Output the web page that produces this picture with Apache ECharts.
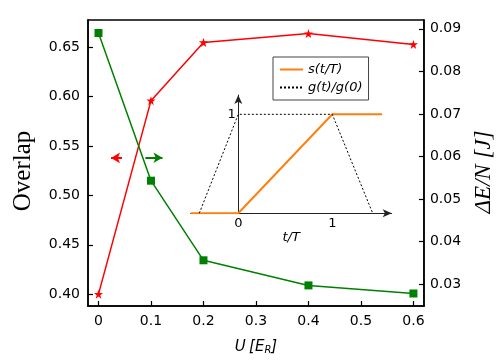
<!DOCTYPE html>
<html><head><meta charset="utf-8">
<script src="https://cdn.jsdelivr.net/npm/echarts@6/dist/echarts.min.js"></script>
<style>html,body{margin:0;padding:0;background:#fff}#c{width:503px;height:360px}</style>
</head><body><div id="c"></div>
<script>
const uValues = [0, 0.1, 0.2, 0.4, 0.6];
const overlap = [0.400, 0.596, 0.655, 0.664, 0.653];
const deltaE = [0.0890, 0.0543, 0.0356, 0.0297, 0.0278];
const xTicks = [0, 0.1, 0.2, 0.3, 0.4, 0.5, 0.6];
const leftTicks = [0.40, 0.45, 0.50, 0.55, 0.60, 0.65];
const rightTicks = [0.03, 0.04, 0.05, 0.06, 0.07, 0.08, 0.09];
const sT = [[-0.506, 0], [0, 0], [1, 1], [1.53, 1]];
const gT = [[-0.415, 0], [0, 1], [1, 1], [1.43, 0]];
const insetXTicks = [0, 1];
const insetYTicks = [1];
const redArrow = [[0.0447, 0.538], [0.0239, 0.538]];
const greenArrow = [[0.0893, 0.0597], [0.1219, 0.0597]];

const chart = echarts.init(document.getElementById('c'), null, {renderer: 'canvas'});
const lab = {color: '#000', fontFamily: 'DejaVu Sans', fontSize: 14};
const tick = {show: true, inside: true, length: 5, lineStyle: {color: '#000', width: 1.2}};
chart.setOption({
  animation: false,
  backgroundColor: '#fff',
  grid: [
    {left: 88, top: 20, right: 76, bottom: 53, show: true, borderColor: '#000', borderWidth: 1.5, backgroundColor: 'transparent'},
    {left: 190.7, top: 95, width: 201, height: 118.3, show: false}
  ],
  legend: {
    data: ['s(t/T)', 'g(t)/g(0)'],
    orient: 'vertical', left: 273, top: 57,
    padding: [6, 6, 6, 6], itemGap: 5, itemWidth: 23, itemHeight: 14,
    borderColor: '#444', borderWidth: 1, borderRadius: 0, backgroundColor: '#fff',
    itemStyle: {color: 'rgba(0,0,0,0)', borderWidth: 0},
    textStyle: {fontFamily: 'DejaVu Sans', fontSize: 13, fontStyle: 'italic', color: '#000'}
  },
  xAxis: [
    {gridIndex: 0, type: 'value', min: -0.02, max: 0.62,
     axisLine: {show: true, onZero: false, lineStyle: {color: '#000', width: 1.5}},
     axisTick: Object.assign({customValues: xTicks}, tick),
     axisLabel: Object.assign({customValues: xTicks, margin: 8, formatter: v => v === 0 ? '0' : v.toFixed(1)}, lab),
     splitLine: {show: false},
     name: '{i|U} {i|[E}{s|R}{i|]}', nameLocation: 'middle', nameGap: 33,
     nameTextStyle: {rich: {
       i: {fontFamily: 'DejaVu Sans', fontSize: 15, fontStyle: 'italic', color: '#000'},
       s: {fontFamily: 'DejaVu Sans', fontSize: 10, fontStyle: 'italic', color: '#000', verticalAlign: 'bottom', padding: [6, 0, 0, 0]}
     }}
    },
    {gridIndex: 1, type: 'value', min: -0.506, max: 1.632,
     axisLine: {show: true, onZero: true, symbol: ['none', 'arrow'], symbolSize: [6, 9], lineStyle: {color: '#222', width: 1}},
     axisTick: {show: false},
     axisLabel: {customValues: insetXTicks, margin: 4, color: '#000', fontFamily: 'DejaVu Sans', fontSize: 13},
     splitLine: {show: false},
     name: 't/T', nameLocation: 'middle', nameGap: 11,
     nameTextStyle: {fontFamily: 'DejaVu Sans', fontSize: 13, fontStyle: 'italic', color: '#000'}
    }
  ],
  yAxis: [
    {gridIndex: 0, type: 'value', position: 'left', min: 0.388, max: 0.6777,
     axisLine: {show: true, onZero: false, lineStyle: {color: '#000', width: 1.5}},
     axisTick: Object.assign({customValues: leftTicks}, tick),
     axisLabel: Object.assign({customValues: leftTicks, margin: 8, formatter: v => v.toFixed(2)}, lab),
     splitLine: {show: false},
     name: 'Overlap', nameLocation: 'middle', nameGap: 52, nameRotate: 90,
     nameTextStyle: {fontFamily: 'Liberation Serif', fontSize: 25, color: '#000', padding: [0, 16, 0, 0]}
    },
    {gridIndex: 0, type: 'value', position: 'right', min: 0.02486, max: 0.09206,
     axisLine: {show: true, onZero: false, lineStyle: {color: '#000', width: 1.5}},
     axisTick: Object.assign({customValues: rightTicks}, tick),
     axisLabel: Object.assign({customValues: rightTicks, margin: 6, formatter: v => v.toFixed(2)}, lab),
     splitLine: {show: false},
     name: 'ΔE/N [J]', nameLocation: 'middle', nameGap: 48, nameRotate: 90,
     nameTextStyle: {fontFamily: 'Liberation Serif', fontSize: 23, fontStyle: 'italic', color: '#000', padding: [0, 18, 0, 0]}
    },
    {gridIndex: 1, type: 'value', min: 0, max: 1.195,
     axisLine: {show: true, onZero: true, symbol: ['none', 'arrow'], symbolSize: [6, 9], lineStyle: {color: '#222', width: 1}},
     axisTick: {show: false},
     axisLabel: {customValues: insetYTicks, margin: -45, color: '#000', fontFamily: 'DejaVu Sans', fontSize: 13},
     splitLine: {show: false}
    }
  ],
  series: [
    {name: 'overlap', type: 'line', xAxisIndex: 0, yAxisIndex: 0,
     data: uValues.map((u, i) => [u, overlap[i]]),
     symbol: 'path://M0,-10 L2.35,-3.24 L9.51,-3.09 L3.8,1.24 L5.88,8.09 L0,4 L-5.88,8.09 L-3.8,1.24 L-9.51,-3.09 L-2.35,-3.24 Z',
     symbolSize: 9, itemStyle: {color: '#ff0000'}, lineStyle: {color: '#ff0000', width: 1.5}, z: 3,
     markLine: {silent: true, symbol: ['none', 'arrow'], symbolSize: [8, 9], label: {show: false},
       lineStyle: {color: '#ff0000', width: 2, type: 'solid'},
       data: [[{coord: redArrow[0]}, {coord: redArrow[1]}]]}
    },
    {name: 'dE', type: 'line', xAxisIndex: 0, yAxisIndex: 1,
     data: uValues.map((u, i) => [u, deltaE[i]]),
     symbol: 'rect', symbolSize: 8, itemStyle: {color: '#008000'}, lineStyle: {color: '#008000', width: 1.5}, z: 3,
     markLine: {silent: true, symbol: ['none', 'arrow'], symbolSize: [8, 9], label: {show: false},
       lineStyle: {color: '#008000', width: 2, type: 'solid'},
       data: [[{coord: greenArrow[0]}, {coord: greenArrow[1]}]]}
    },
    {name: 's(t/T)', type: 'line', xAxisIndex: 1, yAxisIndex: 2, data: sT, symbol: 'none',
     itemStyle: {color: '#ff7f0e'}, lineStyle: {color: '#ff7f0e', width: 2}, z: 4},
    {name: 'g(t)/g(0)', type: 'line', xAxisIndex: 1, yAxisIndex: 2, data: gT, symbol: 'none',
     itemStyle: {color: '#000'}, lineStyle: {color: '#000', width: 1, type: [2, 2]}, z: 4}
  ]
});
</script></body></html>
